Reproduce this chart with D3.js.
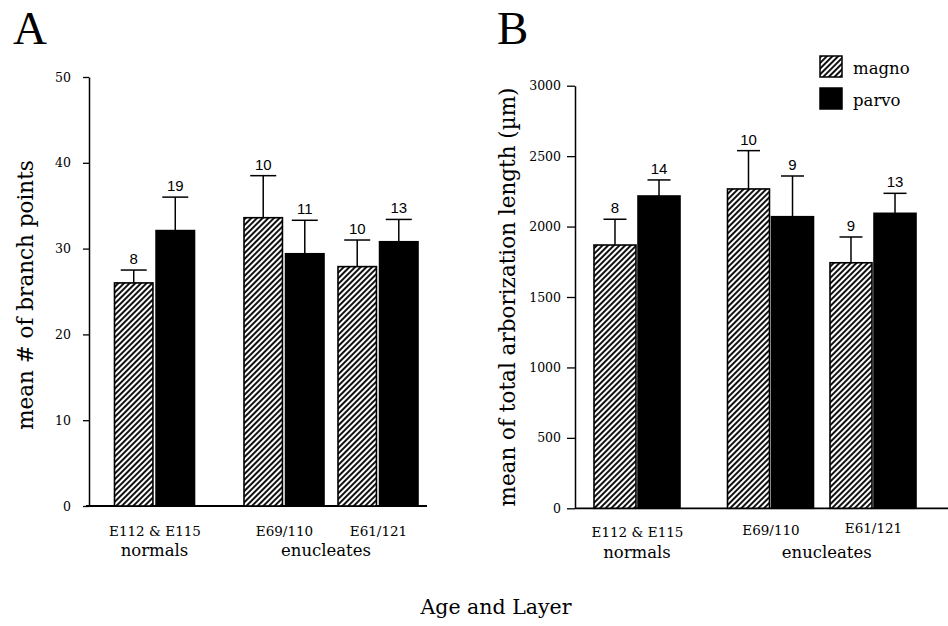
<!DOCTYPE html>
<html>
<head>
<meta charset="utf-8">
<script src="https://cdn.jsdelivr.net/npm/d3@7"></script>
<style>
  body { margin: 0; background: #fff; }
  svg { display: block; }
</style>
</head>
<body>
<script>
// groups and series
const groups = ["E112 & E115", "E69/110", "E61/121"];
const series = ["magno", "parvo"];
const conditions = ["normals", "enucleates"];

// panel A: branch points
const branchMagno = [26.0, 33.6, 27.9];
const branchMagnoSem = [1.5, 4.9, 3.1];
const branchMagnoN = [8, 10, 10];
const branchParvo = [32.1, 29.4, 30.8];
const branchParvoSem = [3.9, 3.9, 2.6];
const branchParvoN = [19, 11, 13];
const branchTicks = [0, 10, 20, 30, 40, 50];

// panel B: arborization length
const lengthMagno = [1869, 2267, 1743];
const lengthMagnoSem = [183, 272, 183];
const lengthMagnoN = [8, 10, 9];
const lengthParvo = [2217, 2070, 2094];
const lengthParvoSem = [114, 289, 142];
const lengthParvoN = [14, 9, 13];
const lengthTicks = [0, 500, 1000, 1500, 2000, 2500, 3000];

const W = 948, H = 626;
const serif = "'DejaVu Serif', serif";

const svg = d3.select("body").append("svg")
  .attr("width", W)
  .attr("height", H);

svg.append("rect").attr("width", W).attr("height", H).attr("fill", "#fff");

// hatch pattern for magno
svg.append("defs").append("pattern")
  .attr("id", "hatch")
  .attr("patternUnits", "userSpaceOnUse")
  .attr("width", 4)
  .attr("height", 4)
  .attr("patternTransform", "rotate(45)")
  .call(p => {
    p.append("rect").attr("width", 4).attr("height", 4).attr("fill", "#fff");
    p.append("line").attr("x1", 1).attr("y1", 0).attr("x2", 1).attr("y2", 4)
      .attr("stroke", "#111").attr("stroke-width", 2);
  });

const fills = { magno: "url(#hatch)", parvo: "#000" };

function drawPanel(cfg) {
  const g = svg.append("g").attr("transform", `translate(${cfg.left},0)`);

  const y = d3.scaleLinear().domain(cfg.domain).range([cfg.bottom, cfg.top]);
  const x = d3.scaleOrdinal().domain(groups).range(cfg.centers);
  const xs = d3.scaleBand().domain(series)
    .range([-(cfg.barW + cfg.gap / 2), cfg.barW + cfg.gap / 2])
    .paddingInner(cfg.gap / (2 * cfg.barW + cfg.gap));

  // y axis
  const yAxis = g.append("g")
    .call(d3.axisLeft(y).tickValues(cfg.ticks).tickFormat(d3.format("d"))
      .tickSize(cfg.tickSize).tickPadding(cfg.tickPad).tickSizeOuter(0));
  yAxis.select(".domain").attr("stroke-width", 1.5);
  yAxis.selectAll(".tick line").attr("stroke-width", 1.3);
  yAxis.selectAll(".tick text").attr("font-family", serif).attr("font-size", 12.5).attr("fill", "#000");

  // baseline
  g.append("line")
    .attr("x1", cfg.baseFrom).attr("x2", cfg.baseTo)
    .attr("y1", y(0)).attr("y2", y(0))
    .attr("stroke", "#000").attr("stroke-width", 1.8);

  const rows = [];
  groups.forEach((grp, i) => {
    rows.push({ grp, s: "magno", v: cfg.magno[i], e: cfg.magnoSem[i], n: cfg.magnoN[i] });
    rows.push({ grp, s: "parvo", v: cfg.parvo[i], e: cfg.parvoSem[i], n: cfg.parvoN[i] });
  });

  const bar = g.selectAll(".bar").data(rows).enter().append("g").attr("class", "bar");
  const bx = d => x(d.grp) + xs(d.s);

  // error bars (upper only)
  bar.append("line")
    .attr("x1", d => bx(d) + xs.bandwidth() / 2).attr("x2", d => bx(d) + xs.bandwidth() / 2)
    .attr("y1", d => y(d.v)).attr("y2", d => y(d.v + d.e))
    .attr("stroke", "#000").attr("stroke-width", 1.5);
  bar.append("line")
    .attr("x1", d => bx(d) + xs.bandwidth() / 2 - cfg.cap / 2)
    .attr("x2", d => bx(d) + xs.bandwidth() / 2 + cfg.cap / 2)
    .attr("y1", d => y(d.v + d.e)).attr("y2", d => y(d.v + d.e))
    .attr("stroke", "#000").attr("stroke-width", 1.5);

  bar.append("rect")
    .attr("x", d => bx(d))
    .attr("y", d => y(d.v))
    .attr("width", xs.bandwidth())
    .attr("height", d => y(0) - y(d.v))
    .attr("fill", d => fills[d.s])
    .attr("stroke", "#000")
    .attr("stroke-width", 1.6);

  // n labels
  bar.append("text")
    .attr("x", d => bx(d) + xs.bandwidth() / 2)
    .attr("y", d => y(d.v + d.e) - 6)
    .attr("text-anchor", "middle")
    .attr("font-family", "'Liberation Sans', Arial, sans-serif")
    .attr("font-size", 15)
    .text(d => d.n);

  // group labels
  const xAxis = g.append("g")
    .attr("transform", `translate(0,${cfg.labelY})`)
    .call(d3.axisBottom(x).tickSize(0).tickPadding(0));
  xAxis.select(".domain").remove();
  xAxis.selectAll(".tick text")
    .attr("font-family", serif).attr("font-size", 13.5).attr("fill", "#000")
    .attr("dy", (d, i) => cfg.labelDy[i]);

  // condition labels
  const condX = [x(groups[0]), (x(groups[1]) + x(groups[2])) / 2 + cfg.condShift];
  g.selectAll(".cond").data(conditions).enter().append("text")
    .attr("x", (d, i) => condX[i])
    .attr("y", cfg.condY)
    .attr("text-anchor", "middle")
    .attr("font-family", serif).attr("font-size", 16.5)
    .text(d => d);

  // y title
  g.append("text")
    .attr("transform", `translate(${cfg.titleX},${cfg.titleY}) rotate(-90)`)
    .attr("text-anchor", "middle")
    .attr("font-family", serif).attr("font-size", 21.5)
    .text(cfg.title);

  // panel letter
  svg.append("text")
    .attr("x", cfg.letterX).attr("y", 44)
    .attr("font-family", "'Liberation Serif', 'Times New Roman', serif")
    .attr("font-size", 47)
    .text(cfg.letter);
}

drawPanel({
  letter: "A", letterX: 13,
  left: 89, top: 77, bottom: 506, domain: [0, 50], ticks: branchTicks,
  tickSize: 6, tickPad: 12,
  centers: [65.5, 195, 289], barW: 37, gap: 6, cap: 26,
  baseFrom: -3, baseTo: 338,
  magno: branchMagno, magnoSem: branchMagnoSem, magnoN: branchMagnoN,
  parvo: branchParvo, parvoSem: branchParvoSem, parvoN: branchParvoN,
  labelY: 536, labelDy: [0, 0, 0], condY: 556, condShift: -5,
  title: "mean # of branch points", titleX: -56, titleY: 295
});

drawPanel({
  letter: "B", letterX: 497,
  left: 575, top: 85.7, bottom: 508.3, domain: [0, 3000], ticks: lengthTicks,
  tickSize: 8, tickPad: 6,
  centers: [62, 195.5, 298], barW: 41, gap: 4, cap: 23,
  baseFrom: 0, baseTo: 373,
  magno: lengthMagno, magnoSem: lengthMagnoSem, magnoN: lengthMagnoN,
  parvo: lengthParvo, parvoSem: lengthParvoSem, parvoN: lengthParvoN,
  labelY: 537, labelDy: [0, -2, -4], condY: 558, condShift: 5,
  title: "mean of total arborization length (\u00b5m)", titleX: -60, titleY: 297
});

// legend
const legend = svg.append("g").attr("transform", "translate(820,56)");
legend.selectAll("rect").data(series).enter().append("rect")
  .attr("x", 0).attr("y", (d, i) => i * 32)
  .attr("width", 22).attr("height", 21)
  .attr("fill", d => fills[d])
  .attr("stroke", "#000").attr("stroke-width", 1.5);
legend.selectAll("text").data(series).enter().append("text")
  .attr("x", 33).attr("y", (d, i) => i * 32 + 18)
  .attr("font-family", serif).attr("font-size", 16.5)
  .text(d => d);

// shared x title
svg.append("text")
  .attr("x", 496).attr("y", 614)
  .attr("text-anchor", "middle")
  .attr("font-family", serif).attr("font-size", 20.5)
  .text("Age and Layer");
</script>
</body>
</html>
